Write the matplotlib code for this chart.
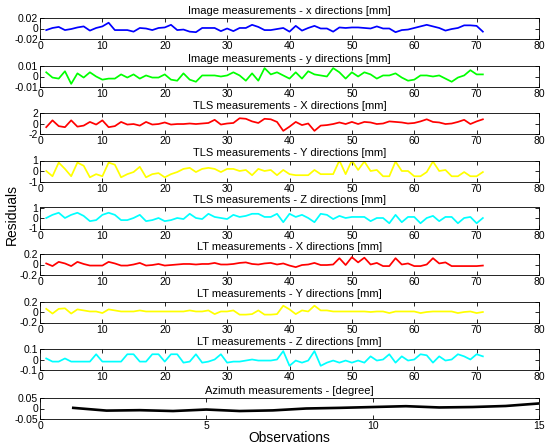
import matplotlib
matplotlib.use("Agg")
import matplotlib.pyplot as plt
import numpy as np

plt.rcParams['font.family'] = ['Liberation Sans', 'DejaVu Sans']
plt.rcParams['axes.unicode_minus'] = False

obs = list(range(1, 72))

img_x = [-0.003, 0.001, 0.003, -0.003, -0.001, 0.002, 0.004, -0.004, 0.001, 0.004,
         0.011, -0.003, -0.003, -0.003, -0.006, 0.001, 0.0, -0.003, 0.001, 0.002,
         0.007, -0.003, -0.002, -0.006, -0.007, 0.001, 0.001, 0.001, -0.005, 0.0,
         -0.005, 0.001, 0.001, 0.007, 0.003, -0.003, -0.003, -0.001, 0.001, -0.006,
         0.005, -0.004, 0.001, 0.005, 0.0, 0.0, -0.006, 0.002, 0.001, 0.002,
         0.002, 0.001, 0.0, 0.004, 0.0, 0.0, -0.007, -0.003, -0.002, 0.001,
         0.004, 0.007, 0.004, 0.001, -0.004, -0.001, 0.001, 0.006, 0.006, 0.005,
         -0.006]
img_y = [0.004, -0.001, -0.002, 0.005, -0.007, 0.003, -0.001, 0.004, 0.0, -0.003,
         -0.002, -0.002, 0.002, -0.001, 0.002, -0.002, 0.001, -0.001, -0.001, 0.002,
         -0.003, -0.004, 0.003, -0.003, -0.005, 0.001, 0.001, 0.001, 0.0, 0.001,
         0.004, 0.001, -0.004, 0.003, -0.004, 0.008, 0.002, 0.004, 0.001, -0.002,
         0.004, -0.002, 0.005, 0.002, 0.001, 0.0, 0.008, 0.004, -0.002, 0.004,
         0.0, 0.004, 0.002, -0.002, 0.001, 0.001, 0.003, -0.001, -0.004, -0.003,
         0.001, 0.001, 0.0, 0.001, -0.002, -0.005, -0.001, 0.001, 0.006, 0.002,
         0.002]
tls_x = [-0.7, 0.6, -0.5, -0.7, 0.6, -0.6, -0.4, 0.3, -0.2, 0.6,
         -0.7, -0.5, 0.3, -0.2, -0.1, -0.4, 0.3, -0.2, -0.1, 0.2,
         -0.2, -0.1, -0.1, 0.0, -0.1, 0.0, 0.1, 0.7, -0.2, 0.0,
         0.1, 1.0, 0.9, 0.4, 0.1, 0.9, 0.8, 0.3, -1.4, -0.6,
         0.3, -0.3, 0.0, -1.4, -0.4, -0.3, -0.1, 0.2, -0.1, 0.3,
         -0.1, 0.3, 0.2, -0.1, 0.0, 0.4, 0.3, 0.2, 0.0, 0.1,
         0.4, 0.8, 0.3, 0.2, -0.1, 0.0, 0.3, 0.7, -0.1, 0.4,
         0.8]
tls_y = [0.0, -0.5, 0.8, 0.2, -0.5, 0.8, 0.5, -0.6, -0.3, -0.5,
         0.8, 0.6, -0.6, -0.3, -0.1, 0.4, -0.6, -0.3, -0.2, -0.6,
         -0.3, -0.1, 0.2, 0.3, -0.1, 0.2, 0.3, 0.2, -0.1, 0.2,
         0.2, 0.0, 0.1, -0.4, 0.2, 0.0, 0.1, -0.4, 0.1, -0.3,
         -0.4, -0.4, -0.4, 0.1, -0.3, -0.3, -0.3, 1.0, -0.3, 1.0,
         0.1, 0.9, 0.0, 0.1, -0.5, -0.5, 0.9, 0.0, 0.0, -0.5,
         -0.5, -0.1, 0.9, 0.0, 0.1, -0.5, -0.5, -0.1, -0.5, -0.5,
         -0.1]
tls_z = [0.0, 0.3, 0.5, 0.0, 0.3, 0.5, 0.2, -0.3, -0.2, 0.3,
         0.5, 0.3, -0.2, -0.2, 0.0, 0.3, -0.3, -0.2, 0.0, -0.3,
         -0.2, 0.0, -0.1, 0.4, 0.0, -0.1, 0.4, 0.1, 0.0, -0.1,
         0.3, 0.1, 0.2, 0.4, 0.4, 0.1, 0.1, 0.4, -0.4, 0.4,
         0.1, 0.3, 0.0, -0.4, 0.4, 0.3, -0.1, 0.2, 0.0, 0.1,
         0.1, 0.1, -0.3, 0.0, 0.0, -0.5, 0.3, -0.4, 0.1, 0.1,
         -0.5, 0.0, 0.2, -0.3, 0.1, 0.1, -0.5, 0.0, 0.1, -0.5,
         0.0]
lt_x = [0.02, -0.03, 0.05, 0.02, -0.03, 0.05, 0.01, -0.02, -0.02, -0.02,
        0.05, 0.02, -0.02, -0.02, 0.0, 0.03, -0.02, -0.01, 0.01, -0.02,
        -0.01, 0.0, 0.01, 0.01, 0.0, 0.01, 0.01, 0.03, 0.0, 0.0,
        0.01, 0.03, 0.04, 0.01, 0.0, 0.02, 0.03, 0.0, 0.02, -0.02,
        -0.05, -0.01, 0.0, 0.03, -0.01, -0.01, 0.0, 0.12, -0.01, 0.14,
        0.04, 0.13, 0.0, 0.03, -0.03, -0.03, 0.12, 0.0, 0.02, -0.03,
        -0.03, 0.0, 0.12, 0.02, 0.04, -0.03, -0.03, -0.03, -0.03, -0.03,
        -0.02]
lt_y = [0.06, -0.03, 0.06, 0.07, -0.03, 0.05, 0.03, 0.01, 0.01, -0.02,
        0.05, 0.03, 0.01, 0.01, 0.01, 0.03, 0.01, 0.01, 0.01, 0.01,
        0.01, 0.01, 0.01, 0.03, 0.01, 0.01, 0.03, -0.04, 0.01, 0.01,
        0.03, -0.05, -0.05, -0.04, 0.03, -0.05, -0.05, -0.04, 0.12, 0.05,
        -0.04, 0.03, 0.01, 0.12, 0.03, 0.03, 0.01, 0.01, 0.01, 0.01,
        0.01, 0.01, 0.0, 0.01, 0.01, -0.02, 0.01, 0.01, 0.01, 0.01,
        -0.02, 0.0, 0.01, 0.01, 0.01, 0.01, -0.02, 0.0, 0.01, -0.02,
        0.0]
lt_z = [0.01, -0.02, -0.02, 0.01, -0.02, -0.02, -0.02, -0.02, 0.05, -0.02,
        -0.02, -0.02, -0.02, 0.05, 0.05, -0.02, -0.02, 0.05, 0.05, -0.02,
        0.05, 0.05, -0.03, -0.02, 0.05, -0.03, -0.02, 0.0, 0.05, -0.03,
        -0.02, -0.02, -0.01, 0.0, -0.01, -0.01, -0.01, 0.0, 0.08, -0.06,
        -0.01, -0.03, -0.01, 0.08, -0.06, -0.03, -0.01, -0.03, -0.01, -0.03,
        -0.01, -0.03, 0.03, -0.01, 0.0, 0.05, -0.03, 0.03, -0.01, 0.0,
        0.05, 0.04, -0.03, 0.03, -0.01, 0.0, 0.05, 0.03, 0.0, 0.05,
        0.03]

az_obs = list(range(1, 16))
azimuth = [0.003, -0.01, -0.008, -0.012, -0.005, -0.012, -0.009, 0.0, 0.003, 0.007,
           0.011, 0.005, 0.007, 0.012, 0.024]

titles = ['Image measurements - x directions [mm]',
          'Image measurements - y directions [mm]',
          'TLS measurements - X directions [mm]',
          'TLS measurements - Y directions [mm]',
          'TLS measurements - Z directions [mm]',
          'LT measurements - X directions [mm]',
          'LT measurements - Y directions [mm]',
          'LT measurements - Z directions [mm]',
          'Azimuth measurements - [degree]']
series = [img_x, img_y, tls_x, tls_y, tls_z, lt_x, lt_y, lt_z]
colors = ['#0000ff', '#00ff00', '#ff0000', '#ffff00', '#00ffff', '#ff0000', '#ffff00', '#00ffff']
ylims = [0.02, 0.01, 2, 1, 1, 0.2, 0.2, 0.1]
ylabels = [['-0.02', '0', '0.02'], ['-0.01', '0', '0.01'], ['-2', '0', '2'],
           ['-1', '0', '1'], ['-1', '0', '1'], ['-0.2', '0', '0.2'],
           ['-0.2', '0', '0.2'], ['-0.1', '0', '0.1']]

W, H = 547, 446
fig = plt.figure(figsize=(W / 100, H / 100), dpi=100)
left, right = 40, 539
tops = [18, 66, 113, 160.5, 207.5, 254, 301.5, 349, 398]
h = 21

def mk(top):
    return fig.add_axes([left / W, 1 - (top + h) / H, (right - left) / W, h / H])

def style(ax):
    ax.tick_params(direction='in', top=True, right=True, labelsize=7.5, length=3,
                   width=0.6, pad=1.5, colors='black')
    for s in ax.spines.values():
        s.set_linewidth(0.6)

for i in range(8):
    ax = mk(tops[i])
    ax.plot(obs, series[i], color=colors[i], lw=1.25)
    ax.set_xlim(0, 80)
    ax.set_xticks(range(0, 81, 10))
    ax.set_ylim(-ylims[i], ylims[i])
    ax.set_yticks([-ylims[i], 0, ylims[i]])
    ax.set_yticklabels(ylabels[i])
    ax.set_title(titles[i], fontsize=8, pad=3)
    style(ax)

ax = mk(tops[8])
ax.plot(az_obs, azimuth, color='black', lw=1.9)
ax.set_xlim(0, 15)
ax.set_xticks([0, 5, 10, 15])
ax.set_ylim(-0.05, 0.05)
ax.set_yticks([-0.05, 0, 0.05])
ax.set_yticklabels(['-0.05', '0', '0.05'])
ax.set_title(titles[8], fontsize=8, pad=3)
ax.set_xlabel('Observations', fontsize=10, labelpad=0)
style(ax)

fig.text(12 / W, 1 - 215 / H, 'Residuals', rotation=90, fontsize=10,
         ha='center', va='center')

fig.savefig('out.png', dpi=100)
